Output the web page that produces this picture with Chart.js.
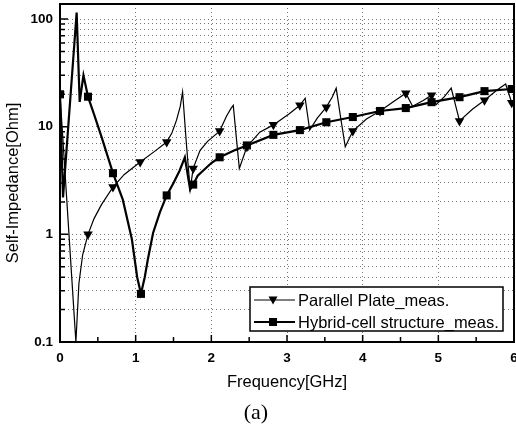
<!DOCTYPE html>
<html>
<head>
<meta charset="utf-8">
<script src="https://cdn.jsdelivr.net/npm/chart.js@4.4.0/dist/chart.umd.min.js"></script>
<style>
  html, body { margin: 0; padding: 0; background: #fff; }
  #wrap { position: relative; width: 516px; height: 434px; }
  #caption {
    position: absolute; left: 226px; width: 60px; top: 399px;
    text-align: center; font: 22px "Liberation Serif", "DejaVu Serif", serif; color: #000;
  }
</style>
</head>
<body>
<div id="wrap">
  <canvas id="mainChart" width="516" height="434"></canvas>
  <div id="caption">(a)</div>
</div>
<script>
// Parallel plate, measured self-impedance (GHz, Ohm)
const ppFreq = [0.00, 0.21, 0.25, 0.30, 0.37, 0.45, 0.55, 0.70, 0.85, 1.06, 1.25, 1.41, 1.48, 1.54, 1.59, 1.62,
  1.67, 1.72, 1.76, 1.85, 1.95, 2.11, 2.20, 2.26, 2.29, 2.33, 2.37, 2.47, 2.64, 2.82, 3.03, 3.17, 3.24, 3.30,
  3.40, 3.52, 3.60, 3.65, 3.71, 3.77, 3.87, 4.05, 4.23, 4.40, 4.57, 4.66, 4.80, 4.91, 4.97, 5.08, 5.17, 5.28,
  5.45, 5.61, 5.78, 5.89, 5.97];
const ppVal = [20, 0.1, 0.35, 0.65, 1.0, 1.4, 1.9, 2.75, 3.6, 4.7, 5.9, 7.2, 8.8, 11.5, 15.5, 21,
  7, 2.6, 4.1, 6.0, 7.3, 9.1, 12.5, 14.8, 15.8, 8, 4.1, 6.5, 8.9, 10.4, 13.2, 15.8, 18.4, 9.3,
  12, 15.2, 19, 22.8, 12, 6.5, 9.1, 11.8, 14, 17, 20.5, 15.5, 17.5, 19.6, 16, 19, 22.8, 11.3,
  14.5, 17.6, 22, 24.9, 16.7];

// Hybrid-cell structure, measured self-impedance (GHz, Ohm)
const hyFreq = [0.00, 0.04, 0.22, 0.26, 0.31, 0.37, 0.45, 0.55, 0.70, 0.83, 0.95, 1.02, 1.07, 1.12, 1.16, 1.23,
  1.32, 1.41, 1.50, 1.58, 1.65, 1.72, 1.76, 1.82, 1.89, 2.00, 2.11, 2.30, 2.47, 2.82, 3.17, 3.52, 3.87, 4.23,
  4.57, 4.91, 5.28, 5.61, 5.97];
const hyVal = [20, 2.2, 115, 17, 30, 19, 13, 8, 3.7, 2.1, 0.9, 0.4, 0.28, 0.4, 0.58, 1.03,
  1.6, 2.3, 3.0, 3.9, 5.2, 2.6, 2.9, 3.5, 3.9, 4.6, 5.2, 6.0, 6.7, 8.4, 9.3, 11, 12.3, 14,
  14.9, 16.9, 18.8, 21.4, 22.4];

// frequencies where the symbols sit on both curves
const markerFreqs = [0.00, 0.37, 0.70, 1.06, 1.07, 1.41, 1.76, 2.11, 2.47, 2.82, 3.17, 3.52, 3.87, 4.23,
  4.57, 4.91, 5.28, 5.61, 5.97];

const seriesNames = ['Parallel Plate_meas.', 'Hybrid-cell structure_meas.'];
const xTitle = 'Frequency[GHz]';
const yTitle = 'Self-Impedance[Ohm]';
const xTickValues = [0, 0.5, 1, 1.5, 2, 2.5, 3, 3.5, 4, 4.5, 5, 5.5, 6];
const yMajor = [0.1, 1, 10, 100];

const FONT = '"Liberation Sans", Arial, sans-serif';
const PLOT_RIGHT = 514;

// log ticks: 1..9 in each decade
const yTickValues = [];
yMajor.slice(0, 3).forEach(d => {
  for (let m = 1; m <= 9; m++) yTickValues.push(Number((d * m).toPrecision(3)));
});
yTickValues.push(100);

const toPoints = (fs, vs) => fs.map((f, i) => ({ x: f, y: vs[i] }));
const isMarker = ctx => ctx.raw && markerFreqs.includes(ctx.raw.x);
const noPadding = s => { s.paddingLeft = 0; s.paddingRight = 0; s.paddingTop = 0; s.paddingBottom = 0; };

// plot frame, inward tick marks and the rotated y title
const frameAndTicks = {
  id: 'frameAndTicks',
  afterDatasetsDraw(chart) {
    const { ctx, chartArea: a, scales: { x, y } } = chart;
    ctx.save();
    ctx.strokeStyle = '#000';
    ctx.lineWidth = 1.5;
    ctx.beginPath();
    xTickValues.forEach(v => {
      const px = x.getPixelForValue(v);
      const len = Number.isInteger(v) ? 7 : 5;
      ctx.moveTo(px, a.bottom);
      ctx.lineTo(px, a.bottom - len);
    });
    yTickValues.forEach(v => {
      const py = y.getPixelForValue(v);
      const len = yMajor.includes(v) ? 8 : 5;
      ctx.moveTo(a.left, py);
      ctx.lineTo(a.left + len, py);
    });
    ctx.stroke();
    ctx.lineWidth = 2;
    ctx.strokeRect(a.left, a.top, a.right - a.left, a.bottom - a.top);

    ctx.translate(13, 183);
    ctx.rotate(-Math.PI / 2);
    ctx.fillStyle = '#000';
    ctx.font = '16.5px ' + FONT;
    ctx.textAlign = 'center';
    ctx.textBaseline = 'middle';
    ctx.fillText(yTitle, 0, 0);
    ctx.restore();
  }
};

function drawSymbol(ctx, style, x, y) {
  ctx.beginPath();
  if (style === 'rect') {
    ctx.rect(x - 4, y - 4, 8, 8);
  } else {
    ctx.moveTo(x - 4.5, y - 3.5);
    ctx.lineTo(x + 4.5, y - 3.5);
    ctx.lineTo(x, y + 4.5);
    ctx.closePath();
  }
  ctx.fill();
}

// boxed legend inside the lower right of the plot
const boxLegend = {
  id: 'boxLegend',
  afterDraw(chart) {
    const { ctx } = chart;
    const bx = 250, by = 287, bw = 253, bh = 44;
    ctx.save();
    ctx.fillStyle = '#fff';
    ctx.fillRect(bx, by, bw, bh);
    ctx.strokeStyle = '#000';
    ctx.lineWidth = 1.5;
    ctx.strokeRect(bx, by, bw, bh);
    const rows = [
      { name: seriesNames[0], style: 'triangle', width: 1.2 },
      { name: seriesNames[1], style: 'rect', width: 2 }
    ];
    rows.forEach((r, i) => {
      const yy = by + 13 + i * 22;
      ctx.strokeStyle = '#000';
      ctx.lineWidth = r.width;
      ctx.beginPath();
      ctx.moveTo(bx + 4, yy);
      ctx.lineTo(bx + 45, yy);
      ctx.stroke();
      ctx.fillStyle = '#000';
      drawSymbol(ctx, r.style, bx + 23, yy);
      ctx.font = '16.5px ' + FONT;
      ctx.textBaseline = 'middle';
      ctx.textAlign = 'left';
      ctx.fillText(r.name, bx + 48, yy + 1);
    });
    ctx.restore();
  }
};

const ctx = document.getElementById('mainChart').getContext('2d');
const chart = new Chart(ctx, {
  type: 'line',
  data: {
    datasets: [
      {
        label: seriesNames[0],
        data: toPoints(ppFreq, ppVal),
        borderColor: '#000',
        backgroundColor: '#000',
        borderWidth: 1.2,
        pointStyle: 'triangle',
        rotation: 180,
        pointRadius: c => isMarker(c) ? 5.5 : 0,
        pointBorderWidth: 0,
        tension: 0
      },
      {
        label: seriesNames[1],
        data: toPoints(hyFreq, hyVal),
        borderColor: '#000',
        backgroundColor: '#000',
        borderWidth: 2.2,
        pointStyle: 'rect',
        pointRadius: c => isMarker(c) ? 5.7 : 0,
        pointBorderWidth: 0,
        tension: 0
      }
    ]
  },
  options: {
    responsive: false,
    animation: false,
    layout: { padding: { top: 4, right: 2, left: 0, bottom: 0 }, autoPadding: false },
    plugins: { legend: { display: false }, tooltip: { enabled: false } },
    scales: {
      x: {
        type: 'linear',
        min: 0,
        max: 6,
        afterBuildTicks: s => { s.ticks = xTickValues.map(v => ({ value: v })); },
        afterFit: s => { s.height = 92; noPadding(s); },
        ticks: {
          autoSkip: false,
          maxRotation: 0,
          padding: 8,
          color: '#000',
          font: { family: FONT, size: 13.5, weight: 'bold' },
          callback: v => Number.isInteger(v) ? String(v) : ''
        },
        grid: {
          drawTicks: false,
          color: c => (c.tick && Number.isInteger(c.tick.value) && c.tick.value > 0 && c.tick.value < 6) ? '#777' : 'rgba(0,0,0,0)',
          lineWidth: 1
        },
        border: { display: false, dash: [1, 3] },
        title: {
          display: true,
          text: xTitle,
          color: '#000',
          font: { family: FONT, size: 16.5 },
          padding: { top: 0, bottom: 42 }
        }
      },
      y: {
        type: 'logarithmic',
        min: 0.1,
        max: 138,
        afterBuildTicks: s => { s.ticks = yTickValues.map(v => ({ value: v })); },
        afterFit: s => { s.width = 60; noPadding(s); },
        ticks: {
          autoSkip: false,
          padding: 7,
          color: '#000',
          font: { family: FONT, size: 13.5, weight: 'bold' },
          callback: v => yMajor.includes(v) ? String(v) : ''
        },
        grid: {
          drawTicks: false,
          color: c => (c.tick && c.tick.value > 0.1 && c.tick.value < 138) ? '#777' : 'rgba(0,0,0,0)',
          lineWidth: 1
        },
        border: { display: false, dash: [1, 3] }
      }
    }
  },
  plugins: [frameAndTicks, boxLegend]
});

// keep the plot's right edge where the frame belongs
const shift = PLOT_RIGHT - chart.chartArea.right;
if (Math.abs(shift) > 0.5) {
  chart.options.layout.padding.right -= shift;
  chart.update();
}
</script>
</body>
</html>
